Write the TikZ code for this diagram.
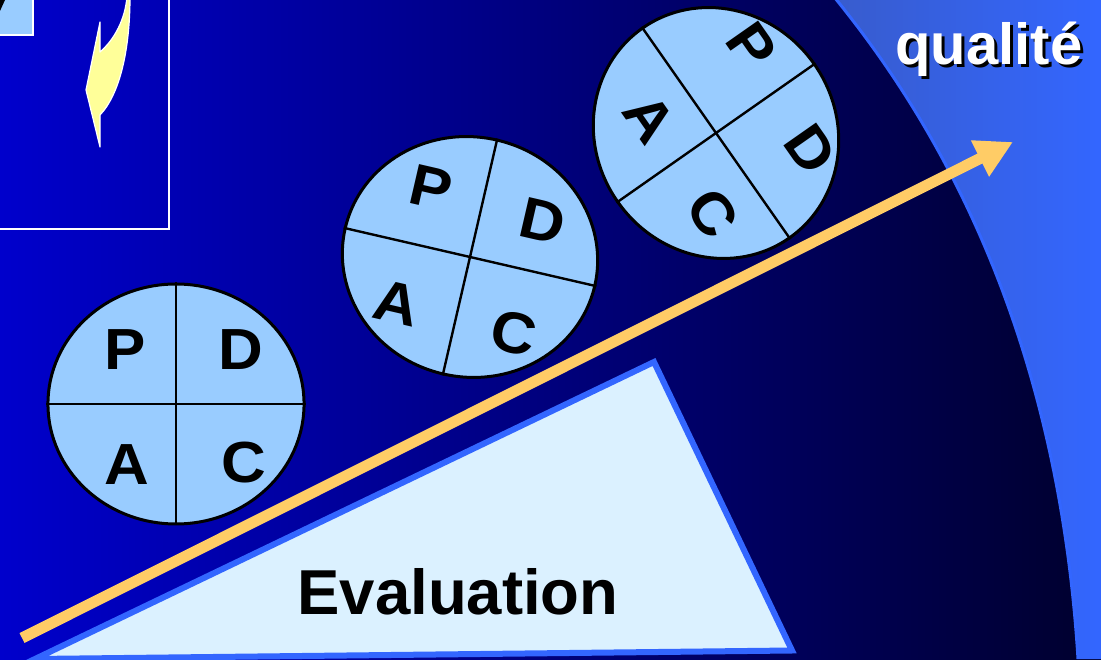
\documentclass[tikz,border=0pt]{standalone}
\usepackage{fontspec}
\setmainfont{Liberation Sans}
\usetikzlibrary{arrows.meta}
\definecolor{DeepBlue}{RGB}{0,0,204}
\definecolor{NightBlue}{RGB}{0,0,45}
\definecolor{Royal}{RGB}{51,102,255}
\definecolor{DullRoyal}{RGB}{56,92,205}
\definecolor{SkyBlue}{RGB}{153,204,255}
\definecolor{PaleBlue}{RGB}{219,241,255}
\definecolor{Amber}{RGB}{255,204,102}
\definecolor{Feather}{RGB}{255,255,153}
\tikzset{
  >=Latex,
  wheel/.style={circle,draw=black,line width=3pt,fill=SkyBlue,minimum size=240pt,inner sep=0pt},
  spoke/.style={draw=black,line width=2.4pt},
  letter/.style={font=\bfseries\fontsize{58}{60}\selectfont,text=black,inner sep=0pt},
  title/.style={font=\bfseries\fontsize{58}{62}\selectfont,inner sep=0pt},
  rise/.style={-{Triangle[length=37pt,width=38pt]},draw=Amber,line width=11pt},
  wedge/.style={draw=Royal,line width=6pt,fill=PaleBlue,line join=miter},
  tagbox/.style={draw=white,line width=2pt,fill=SkyBlue}
}
\begin{document}
\begin{tikzpicture}[x=1pt,y=1pt]
  \useasboundingbox (0,0) rectangle (1101,659);
  \path[left color=DeepBlue,right color=NightBlue] (0,0) rectangle (1101,659);
  % quality zone
  \path[left color=DullRoyal,right color=Royal] (835,661) .. controls (930,544) and (1057,339) .. (1078,0) -- (1103,0) -- (1103,661) -- cycle;
  \draw[Royal,line width=3pt] (835,661) .. controls (930,544) and (1057,339) .. (1078,0);
  \node[title,text=black,anchor=base] (shadow) at (992,591) {qualité};
  \node[title,text=white,anchor=base] (quality) at (989,594) {qualité};
  % framed picture
  \draw[white,line width=2pt] (-5,430) -- (169,430) -- (169,664);
  \draw[tagbox] (-5,624) rectangle (33,664);
  \fill[black] (-1,659) -- (5,659) -- (0,648) -- cycle;
  \draw[white,line width=1.2pt,line join=round,fill=Feather] (100,637) -- (100,607) .. controls (115,620) and (125,640) .. (127,662) -- (130,662) .. controls (130,610) and (120,565) .. (100,544) -- (100,512) -- (86,569) -- cycle;
  % first wheel
  \begin{scope}[shift={(176,255)},xscale=1.067,transform shape]
    \node[wheel] (w1) at (0,0) {};
    \draw[spoke] (w1.north) -- (w1.south);
    \draw[spoke] (w1.west) -- (w1.east);
    \node[letter] (p1) at (-48,54) {P};
    \node[letter] (d1) at (61,54) {D};
    \node[letter] (a1) at (-46,-61) {A};
    \node[letter] (c1) at (64,-59) {C};
  \end{scope}
  % second wheel
  \begin{scope}[shift={(470,402)},rotate=-13,xscale=1.067,transform shape]
    \node[wheel] (w2) at (0,0) {};
    \draw[spoke] (w2.north) -- (w2.south);
    \draw[spoke] (w2.west) -- (w2.east);
    \node[letter] (p2) at (-50,59) {P};
    \node[letter] (d2) at (59,51) {D};
    \node[letter] (a2) at (-57,-61) {A};
    \node[letter] (c2) at (56,-64) {C};
  \end{scope}
  % third wheel
  \begin{scope}[shift={(716,526)},rotate=-55,xscale=1.067,transform shape]
    \node[wheel] (w3) at (0,0) {};
    \draw[spoke] (w3.north) -- (w3.south);
    \draw[spoke] (w3.west) -- (w3.east);
    \node[letter] (p3) at (-48,79) {P};
    \node[letter] (d3) at (63,68) {D};
    \node[letter] (a3) at (-47,-46) {A};
    \node[letter] (c3) at (60,-49) {C};
  \end{scope}
  % evaluation wedge
  \draw[wedge] (654,297) -- (792,8.5) -- (35,0) -- cycle;
  \node[font=\bfseries\fontsize{63.5}{66}\selectfont,text=black,inner sep=0pt,anchor=base] (evaluation) at (458,45) {Evaluation};
  % rising arrow
  \coordinate (start) at (22,21);
  \coordinate (tip) at (1013,517);
  \draw[rise] (start) -- (tip);
\end{tikzpicture}
\end{document}
